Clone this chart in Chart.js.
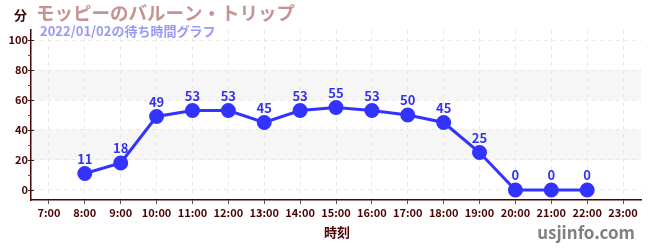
<!DOCTYPE html>
<html><head><meta charset="utf-8">
<script src="https://cdn.jsdelivr.net/npm/chart.js@4/dist/chart.umd.min.js"></script>
<style>html,body{margin:0;padding:0;background:#fff}#w{width:650px;height:250px}</style>
</head><body><div id="w"><canvas id="c"></canvas></div>
<script>
const hours = [8,9,10,11,12,13,14,15,16,17,18,19,20,21,22];
const waits = [11,18,49,53,53,45,53,55,53,50,45,25,0,0,0];
const yTicks = [0,20,40,60,80,100];
const xTicks = [7,8,9,10,11,12,13,14,15,16,17,18,19,20,21,22,23];
const bands = [[20,40],[60,80]];
const minorY = [10,30,50,70,90];
const title = 'モッピーのバルーン・トリップ';
const subtitle = '2022/01/02の待ち時間グラフ';
const F = "'Noto Sans CJK JP','Noto Sans',sans-serif";
const AX = '#4a0404';

const deco = {
  id:'deco',
  beforeDraw(ch){
    const {ctx, chartArea:a, scales:{x,y}} = ch;
    ctx.save();
    ctx.fillStyle = '#f6f6f6';
    bands.forEach(([lo,hi])=>{
      const t=y.getPixelForValue(hi), b=y.getPixelForValue(lo);
      ctx.fillRect(a.left, t, a.right-a.left, b-t);
    });
    ctx.restore();
  },
  afterDatasetsDraw(ch){
    const {ctx, scales:{x,y}} = ch;
    ctx.save();
    ctx.lineWidth = 1;
    // major ticks crossing axis
    ctx.strokeStyle = '#222';
    yTicks.forEach(v=>{const py=Math.round(y.getPixelForValue(v))+0.5;ctx.beginPath();ctx.moveTo(x.left-3,py);ctx.lineTo(x.left+3,py);ctx.stroke();});
    // minor red ticks
    ctx.strokeStyle = '#d02020';
    minorY.forEach(v=>{const py=Math.round(y.getPixelForValue(v))+0.5;ctx.beginPath();ctx.moveTo(x.left-3,py);ctx.lineTo(x.left,py);ctx.stroke();});
    // data labels
    const meta = ch.getDatasetMeta(0);
    ctx.fillStyle = '#3333ee'; ctx.font = "bold 13px "+F; ctx.textAlign='center'; ctx.textBaseline='bottom';
    meta.data.forEach((p,i)=>{ctx.fillText(String(waits[i]), p.x, p.y-8);});
    // texts
    ctx.textAlign='left'; ctx.textBaseline='middle';
    ctx.fillStyle = '#3a0a0a'; ctx.font = "bold 13px "+F; ctx.fillText('分', 14, 15);
    ctx.fillStyle = '#c49494'; ctx.font = "bold 18.5px "+F; ctx.fillText(title, 36, 13);
    ctx.fillStyle = '#9999f5'; ctx.font = "bold 13px "+F; ctx.fillText(subtitle, 40, 31);
    ctx.fillStyle = AX; ctx.font = "bold 13px "+F; ctx.textAlign='center'; ctx.fillText('時刻', 337, 232);
    ctx.fillStyle = '#808080'; ctx.font = "bold 17px "+F; ctx.textAlign='right'; ctx.fillText('usjinfo.com', 635, 233);
    ctx.restore();
  }
};

new Chart(document.getElementById('c'), {
  type:'line',
  data:{datasets:[{data:hours.map((h,i)=>({x:h,y:waits[i]})), borderColor:'#3333ff', backgroundColor:'#3333ff', borderWidth:3, pointRadius:6, pointHoverRadius:6, tension:0}]},
  options:{
    responsive:true, maintainAspectRatio:false, animation:false,
    layout:{padding:{top:30,right:9,left:0,bottom:0}},
    plugins:{legend:{display:false}, tooltip:{enabled:false}},
    scales:{
      x:{type:'linear', min:6.5, max:23.5,
        afterBuildTicks(s){s.ticks = xTicks.map(v=>({value:v}));},
        afterFit(s){s.height = 50;},
        ticks:{autoSkip:false, maxRotation:0, color:AX, font:{family:F, size:11, weight:'bold'}, padding:2, callback:v=>v+':00'},
        grid:{color:'#e8e8e8', tickColor:'#555', tickLength:4, tickBorderDash:[0,0]},
        border:{color:AX, width:1.5, dash:[4,4]}
      },
      y:{min:-6.7, max:106.7,
        afterBuildTicks(s){s.ticks = yTicks.map(v=>({value:v}));},
        afterFit(s){s.width = 31;},
        ticks:{color:AX, font:{family:F, size:11, weight:'bold'}, padding:3},
        grid:{color:'#e8e8e8', drawTicks:false, tickLength:4},
        border:{color:AX, width:1.5, dash:[4,4]}
      }
    }
  },
  plugins:[deco]
});
</script></body></html>
